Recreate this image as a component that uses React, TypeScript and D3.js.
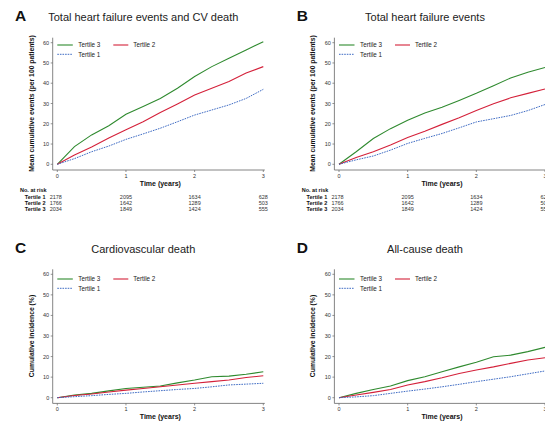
import React from 'react';
import * as d3 from 'd3';

// time points (years)
const times = [0, 0.25, 0.5, 0.75, 1, 1.25, 1.5, 1.75, 2, 2.25, 2.5, 2.75, 3];
const xTicks = [0, 1, 2, 3];
const yTicks = [0, 10, 20, 30, 40, 50, 60];

// A: total HF events and CV death
const aT3 = [0, 8.7, 14.5, 19, 24.7, 28.5, 32.5, 37.5, 43.3, 48.2, 52.3, 56.4, 60.5];
const aT2 = [0, 4.6, 8.5, 13, 17, 21, 25.6, 29.8, 34.2, 37.5, 40.8, 45, 48.2];
const aT1 = [0, 2.8, 6.2, 9, 12.3, 15, 17.8, 21, 24.3, 26.8, 29.3, 32.5, 37];
// B: total HF events
const bT3 = [0, 6.2, 12.7, 17.6, 21.7, 25.3, 28.2, 31.5, 35, 38.8, 42.6, 45.4, 47.8];
const bT2 = [0, 3.4, 6.2, 9.5, 13.2, 16.3, 19.7, 23, 26.6, 29.9, 32.8, 35, 37.2];
const bT1 = [0, 2.2, 4.1, 7, 10.3, 12.8, 15.2, 18, 20.9, 22.5, 24.1, 26.5, 29.5];
// C: CV death
const cT3 = [0, 1.3, 2.1, 3.3, 4.5, 5.1, 5.7, 7.2, 8.6, 10.2, 10.5, 11.4, 12.6];
const cT2 = [0, 1.1, 1.8, 2.8, 3.7, 4.5, 5.3, 6.2, 7, 7.8, 8.6, 9.8, 10.7];
const cT1 = [0, 0.5, 1, 1.6, 2.1, 2.8, 3.4, 4, 4.5, 5.3, 6.2, 6.6, 7];
// D: all-cause death
const dT3 = [0, 2.1, 4, 5.7, 8.3, 10.2, 12.6, 15, 17.2, 19.9, 20.7, 22.4, 24.5];
const dT2 = [0, 1.3, 2.6, 4, 6.2, 7.8, 9.7, 11.8, 13.5, 15, 16.7, 18.3, 19.4];
const dT1 = [0, 0.4, 1, 2.1, 3.2, 4.2, 5.3, 6.5, 7.8, 9, 10.2, 11.6, 13];

const riskLabels = ['Tertile 1', 'Tertile 2', 'Tertile 3'];
const riskT1 = [2178, 2095, 1634, 628];
const riskT2 = [1766, 1642, 1289, 503];
const riskT3 = [2034, 1849, 1424, 555];

const GREEN = '#2f8a2f';
const RED = '#d4213a';
const BLUE = '#3f6cc4';
const FONT = '"Liberation Sans", Arial, sans-serif';

const panels = [
  { letter: 'A', title: 'Total heart failure events and CV death', ylab: 'Mean cumulative events (per 100 patients)',
    dx: 0, yBot: 164.3, yTop: 42.7, series: [aT3, aT2, aT1], risk: true, legY: 45 },
  { letter: 'B', title: 'Total heart failure events', ylab: 'Mean cumulative events (per 100 patients)',
    dx: 281.7, yBot: 164.3, yTop: 42.7, series: [bT3, bT2, bT1], risk: true, legY: 45 },
  { letter: 'C', title: 'Cardiovascular death', ylab: 'Cumulative incidence (%)',
    dx: 0, yBot: 397.7, yTop: 274.3, series: [cT3, cT2, cT1], risk: false, legY: 279 },
  { letter: 'D', title: 'All-cause death', ylab: 'Cumulative incidence (%)',
    dx: 281.7, yBot: 397.7, yTop: 274.3, series: [dT3, dT2, dT1], risk: false, legY: 279 },
];

function Panel({ p }: { p: any }) {
  const x = d3.scaleLinear().domain([0, 3]).range([57.3 + p.dx, 263.3 + p.dx]);
  const y = d3.scaleLinear().domain([0, 60]).range([p.yBot, p.yTop]);
  const axisX = 52.7 + p.dx;
  const axisY = p.yBot + 5.7;
  const line = d3.line<number>().x((_, i) => x(times[i])).y(d => y(d));
  const colors = [GREEN, RED, BLUE];
  const midX = (x(0) + x(3)) / 2;
  const lx = x(0);
  const risks = [riskT1, riskT2, riskT3];
  return (
    <g fontFamily={FONT}>
      <text x={15 + p.dx} y={p.yTop - 21.5} fontSize={15.5} fontWeight="bold" fill="#111">{p.letter}</text>
      <text x={midX - 17} y={p.yTop - 21.5} fontSize={11} textAnchor="middle" fill="#222">{p.title}</text>
      {/* axes */}
      <line x1={axisX} x2={axisX} y1={p.yTop - 5} y2={axisY} stroke="#666" strokeWidth={0.8} />
      <line x1={axisX} x2={x(3) + 1.5} y1={axisY} y2={axisY} stroke="#666" strokeWidth={0.8} />
      {yTicks.map(t => (
        <g key={'y' + t}>
          <line x1={axisX - 2} x2={axisX} y1={y(t)} y2={y(t)} stroke="#666" strokeWidth={0.7} />
          <text x={axisX - 3.5} y={y(t) + 2} fontSize={5.5} textAnchor="end" fill="#333">{t}</text>
        </g>
      ))}
      {xTicks.map(t => (
        <g key={'x' + t}>
          <line x1={x(t)} x2={x(t)} y1={axisY} y2={axisY + 2} stroke="#666" strokeWidth={0.7} />
          <text x={x(t)} y={axisY + 7.5} fontSize={5.5} textAnchor="middle" fill="#333">{t}</text>
        </g>
      ))}
      <text x={midX} y={axisY + 16} fontSize={7} fontWeight="bold" textAnchor="middle" fill="#111">Time (years)</text>
      <text transform={`translate(${33.5 + p.dx},${(y(0) + y(60)) / 2}) rotate(-90)`} fontSize={6.8}
        fontWeight="bold" textAnchor="middle" fill="#111">{p.ylab}</text>
      {/* curves */}
      {p.series.map((s: number[], i: number) => (
        <path key={i} d={line(s) || ''} fill="none" stroke={colors[i]} strokeWidth={i === 2 ? 1 : 1.1}
          strokeDasharray={i === 2 ? '1.6,1' : undefined} />
      ))}
      {/* legend */}
      <line x1={lx} x2={lx + 15.5} y1={p.legY} y2={p.legY} stroke={GREEN} strokeWidth={1.1} />
      <text x={lx + 21} y={p.legY + 2.2} fontSize={6.3} fill="#222">Tertile 3</text>
      <line x1={lx + 56} x2={lx + 71} y1={p.legY} y2={p.legY} stroke={RED} strokeWidth={1.1} />
      <text x={lx + 76} y={p.legY + 2.2} fontSize={6.3} fill="#222">Tertile 2</text>
      <line x1={lx} x2={lx + 15.5} y1={p.legY + 9.3} y2={p.legY + 9.3} stroke={BLUE} strokeWidth={1}
        strokeDasharray="1.6,1" />
      <text x={lx + 21} y={p.legY + 11.5} fontSize={6.3} fill="#222">Tertile 1</text>
      {/* numbers at risk */}
      {p.risk && (
        <g>
          <text x={20 + p.dx} y={192} fontSize={5.5} fontWeight="bold" fill="#111">No. at risk</text>
          {riskLabels.map((lab, r) => (
            <g key={lab}>
              <text x={45.5 + p.dx} y={198.5 + r * 6.4} fontSize={5.5} fontWeight="bold" textAnchor="end" fill="#111">{lab}</text>
              {risks[r].map((v, k) => (
                <text key={k} x={x(xTicks[k]) - (k === 0 ? 1.5 : 0)} y={198.5 + r * 6.4} fontSize={5.5}
                  textAnchor="middle" fill="#333">{v}</text>
              ))}
            </g>
          ))}
        </g>
      )}
    </g>
  );
}

export default function App() {
  return (
    <svg width={545} height={421} style={{ position: 'absolute', left: 0, top: 0, background: '#fff' }}>
      <rect width={545} height={421} fill="#fff" />
      {panels.map(p => <Panel key={p.letter} p={p} />)}
    </svg>
  );
}
